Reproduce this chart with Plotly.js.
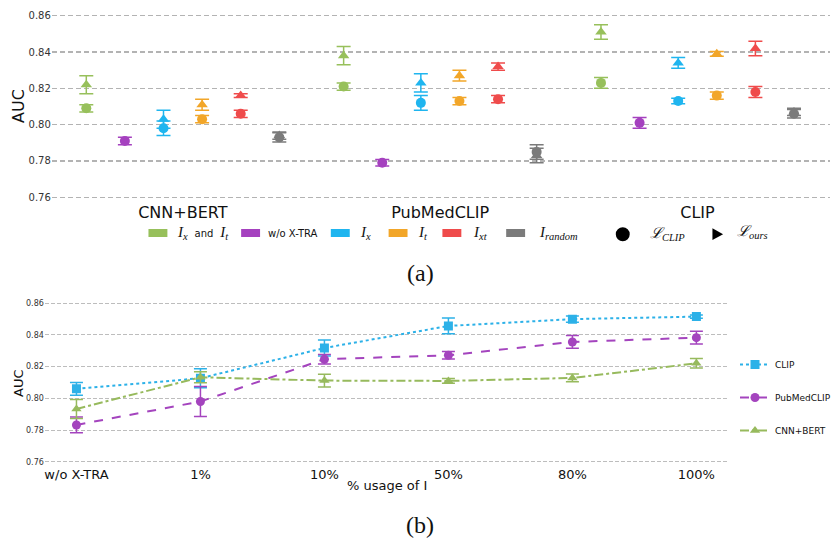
<!DOCTYPE html>
<html><head><meta charset="utf-8">
<script src="https://cdn.plot.ly/plotly-3.0.1.min.js"></script>
<style>body{margin:0;background:#fff;} #chart{width:836px;height:541px;}</style>
</head><body><div id="chart"></div>
<script>
const W = 836, H = 541;

// ---------- (a) data ----------
const groups = ['CNN+BERT', 'PubMedCLIP', 'CLIP'];
const methodNames = ['Ix and It', 'w/o X-TRA', 'Ix', 'It', 'Ixt', 'Irandom'];
const methodColors = ['#97c05b', '#a541bf', '#1fb5ef', '#f2a629', '#ef4b4b', '#7b7b7b'];

// L_CLIP (circles): values per group [CNN+BERT, PubMedCLIP, CLIP]
const clipIxIt = [0.809, 0.821, 0.823];
const clipIxItErr = [0.002, 0.002, 0.003];
const clipWo = [0.791, 0.779, 0.801];
const clipWoErr = [0.002, 0.0018, 0.003];
const clipIx = [0.798, 0.812, 0.813];
const clipIxErr = [0.004, 0.004, 0.0015];
const clipIt = [0.803, 0.813, 0.816];
const clipItErr = [0.002, 0.002, 0.002];
const clipIxt = [0.806, 0.814, 0.818];
const clipIxtErr = [0.002, 0.002, 0.003];
const clipRand = [0.793, 0.785, 0.806];
const clipRandErr = [0.0025, 0.004, 0.0024];

// L_ours (triangles)
const oursIxIt = [0.822, 0.838, 0.851];
const oursIxItErr = [0.005, 0.005, 0.004];
const oursIx = [0.803, 0.823, 0.834];
const oursIxErr = [0.005, 0.005, 0.003];
const oursIt = [0.811, 0.827, 0.839];
const oursItErr = [0.003, 0.003, 0.0013];
const oursIxt = [0.816, 0.832, 0.842];
const oursIxtErr = [0.001, 0.002, 0.004];
const oursRand = [0.794, 0.783, 0.807];
const oursRandErr = [0.002, 0.004, 0.002];

const clipVals = [clipIxIt, clipWo, clipIx, clipIt, clipIxt, clipRand];
const clipErrs = [clipIxItErr, clipWoErr, clipIxErr, clipItErr, clipIxtErr, clipRandErr];
const oursVals = [oursIxIt, null, oursIx, oursIt, oursIxt, oursRand];
const oursErrs = [oursIxItErr, null, oursIxErr, oursItErr, oursIxtErr, oursRandErr];

// ---------- (b) data ----------
const usage = ['w/o X-TRA', '1%', '10%', '50%', '80%', '100%'];
const seriesNames = ['CLIP', 'PubMedCLIP', 'CNN+BERT'];
const clipCurve = [0.806, 0.8127, 0.8318, 0.8457, 0.850, 0.8516];
const clipCurveErr = [0.004, 0.006, 0.005, 0.005, 0.002, 0.001];
const pubmedCurve = [0.7832, 0.798, 0.8247, 0.8272, 0.8356, 0.8383];
const pubmedCurveErr = [0.005, 0.0095, 0.003, 0.0023, 0.004, 0.004];
const cnnCurve = [0.7933, 0.8133, 0.8112, 0.811, 0.8129, 0.8221];
const cnnCurveErr = [0.006, 0.0035, 0.004, 0.0015, 0.0024, 0.003];

const yTicks = [0.76, 0.78, 0.80, 0.82, 0.84, 0.86];

// ---------- traces ----------
const traces = [];
const slot = 0.15; // spacing between methods inside a group (axis units)
function xs(i) { return groups.map((g, gi) => gi + (i - 2.5) * slot); }

// triangles first, circles on top
methodNames.forEach((m, i) => {
  if (!oursVals[i]) return;
  traces.push({
    type: 'scatter', mode: 'markers', x: xs(i), y: oursVals[i],
    error_y: {type: 'data', array: oursErrs[i], color: methodColors[i], thickness: 1.5, width: 7},
    marker: {symbol: 'triangle-up', size: 10, color: methodColors[i]},
    xaxis: 'x', yaxis: 'y', showlegend: false, name: m + ' L_ours'
  });
});
methodNames.forEach((m, i) => {
  traces.push({
    type: 'scatter', mode: 'markers', x: xs(i), y: clipVals[i],
    error_y: {type: 'data', array: clipErrs[i], color: methodColors[i], thickness: 1.5, width: 7},
    marker: {symbol: 'circle', size: 10, color: methodColors[i]},
    xaxis: 'x', yaxis: 'y', showlegend: false, name: m + ' L_CLIP'
  });
});

const curveVals = [clipCurve, pubmedCurve, cnnCurve];
const curveErrs = [clipCurveErr, pubmedCurveErr, cnnCurveErr];
const curveColors = ['#2cb1e8', '#a444be', '#97ba5d'];
const curveDash = ['dot', 'dash', 'dashdot'];
const curveSymbols = ['square', 'circle', 'triangle-up'];
seriesNames.forEach((s, k) => {
  traces.push({
    type: 'scatter', mode: 'lines+markers', x: usage, y: curveVals[k], name: s,
    legendgroup: s,
    line: {color: curveColors[k], dash: curveDash[k], width: 2},
    marker: {symbol: curveSymbols[k], size: 9, color: curveColors[k]},
    error_y: {type: 'data', array: curveErrs[k], color: curveColors[k], thickness: 1.5, width: 6.5},
    xaxis: 'x2', yaxis: 'y2'
  });
});

// ---------- top legend (manual) ----------
const legLabels = [
  '<i>I</i><sub><i>x</i></sub> <span style="font-family:\'DejaVu Sans\';font-size:10px"> and </span> <i>I</i><sub><i>t</i></sub>',
  'w/o X-TRA',
  '<i>I</i><sub><i>x</i></sub>',
  '<i>I</i><sub><i>t</i></sub>',
  '<i>I</i><sub><i>xt</i></sub>',
  '<i>I</i><sub><i>random</i></sub>'
];
const legBoxX = [149, 242, 332, 390, 444, 508];
const legTextX = [176, 267, 359, 417, 473, 539];
const legY = 233;
const px = v => v / W, py = v => 1 - v / H;

const shapes = [];
const annotations = [];
legLabels.forEach((lab, i) => {
  shapes.push({type: 'rect', xref: 'paper', yref: 'paper', x0: px(legBoxX[i]), x1: px(legBoxX[i] + 19),
    y0: py(legY + 4), y1: py(legY - 4), fillcolor: methodColors[i], line: {width: 0}});
  const sans = (i === 1);
  annotations.push({xref: 'paper', yref: 'paper', x: px(legTextX[i]), y: py(legY), xanchor: 'left', yanchor: 'middle',
    showarrow: false, text: lab,
    font: sans ? {family: 'DejaVu Sans', size: 10, color: '#111'} : {family: 'Liberation Serif', size: 15, color: '#111'}});
});
// loss glyphs
shapes.push({type: 'circle', xref: 'paper', yref: 'paper', x0: px(618), x1: px(632), y0: py(241.3), y1: py(227.3),
  fillcolor: '#000', line: {width: 0}});
shapes.push({type: 'path', xref: 'paper', yref: 'paper',
  path: `M ${px(715)},${py(228.3)} L ${px(725.7)},${py(234.2)} L ${px(715)},${py(240)} Z`,
  fillcolor: '#000', line: {width: 0}});
annotations.push({xref: 'paper', yref: 'paper', x: px(650), y: py(234), xanchor: 'left', yanchor: 'middle', showarrow: false,
  text: '<i>ℒ</i><sub><i>CLIP</i></sub>', font: {family: 'Liberation Serif', size: 15, color: '#111'}});
annotations.push({xref: 'paper', yref: 'paper', x: px(738), y: py(232), xanchor: 'left', yanchor: 'middle', showarrow: false,
  text: '<i>ℒ</i><sub><i>ours</i></sub>', font: {family: 'Liberation Serif', size: 15, color: '#111'}});

// axis titles & panel labels
function label(x, y, text, font, angle) {
  annotations.push({xref: 'paper', yref: 'paper', x: px(x), y: py(y), xanchor: 'center', yanchor: 'middle',
    textangle: angle || 0, showarrow: false, text: text, font: font});
}
label(18, 106, 'AUC', {family: 'DejaVu Sans', size: 16, color: '#111'}, -90);
label(18, 383, 'AUC', {family: 'DejaVu Sans', size: 13, color: '#111'}, -90);
label(388, 485, '% usage of I', {family: 'DejaVu Sans', size: 13, color: '#111'});
label(422, 273, '(a)', {family: 'Liberation Serif', size: 24, color: '#111'});
label(422, 525, '(b)', {family: 'Liberation Serif', size: 24, color: '#111'});

const layout = {
  width: W, height: H,
  margin: {l: 0, r: 0, t: 0, b: 0},
  paper_bgcolor: '#fff', plot_bgcolor: '#fff',
  showlegend: true,
  legend: {x: px(738), y: py(350), xanchor: 'left', yanchor: 'top', bgcolor: 'rgba(0,0,0,0)',
    font: {family: 'DejaVu Sans', size: 9, color: '#111'}, tracegroupgap: 14, traceorder: 'grouped'},
  xaxis: {domain: [px(52), px(833)], range: [-0.509, 2.515], tickvals: [0, 1, 2], ticktext: groups,
    showgrid: false, zeroline: false, showline: false, ticks: '', anchor: 'y',
    tickfont: {family: 'DejaVu Sans', size: 16, color: '#111'}},
  yaxis: {domain: [py(200.93), py(12.07)], range: [0.758, 0.862], tickvals: yTicks,
    ticktext: yTicks.map(v => v.toFixed(2)), showgrid: true, gridcolor: '#b3b3b3', griddash: '5px,3px', gridwidth: 1.5,
    zeroline: false, showline: false, ticks: '', anchor: 'x',
    tickfont: {family: 'DejaVu Sans', size: 10, color: '#333'}},
  xaxis2: {domain: [px(45), px(730)], type: 'category', categoryorder: 'array', categoryarray: usage,
    range: [-0.255, 5.25], showgrid: false, zeroline: false, showline: false, ticks: '', anchor: 'y2',
    tickfont: {family: 'DejaVu Sans', size: 13, color: '#111'}},
  yaxis2: {domain: [py(464.87), py(300.13)], range: [0.758, 0.862], tickvals: yTicks,
    ticktext: yTicks.map(v => v.toFixed(2)), showgrid: true, gridcolor: '#bdbdbd', griddash: '4px,2px', gridwidth: 1,
    zeroline: false, showline: false, ticks: '', anchor: 'x2',
    tickfont: {family: 'DejaVu Sans', size: 8, color: '#333'}},
  shapes: shapes,
  annotations: annotations
};

Plotly.newPlot('chart', traces, layout, {displayModeBar: false, staticPlot: true});
</script>
</body></html>
